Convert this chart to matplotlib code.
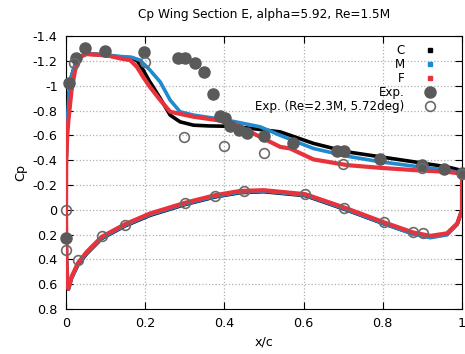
import numpy as np
import matplotlib
matplotlib.use('Agg')
import matplotlib.pyplot as plt
from matplotlib.lines import Line2D
from matplotlib.ticker import FuncFormatter, MultipleLocator

plt.rcParams['axes.unicode_minus'] = False
plt.rcParams['font.family'] = 'DejaVu Sans'

# CFD, upper surface (x/c, Cp)
xu_C = [0.004, 0.001, 0.0, 0.0005, 0.003, 0.008, 0.014, 0.023, 0.035, 0.05, 0.08, 0.11, 0.14, 0.165,
        0.18, 0.195, 0.21, 0.22, 0.238, 0.263, 0.288, 0.322, 0.36, 0.398, 0.457, 0.541, 0.625, 0.71,
        0.794, 0.878, 0.962, 0.996, 1.0]
cu_C = [0.62, 0.4, 0.0, -0.4, -0.7, -0.95, -1.08, -1.17, -1.23, -1.255, -1.25, -1.24, -1.23, -1.225,
        -1.2, -1.126, -1.04, -0.99, -0.898, -0.763, -0.709, -0.682, -0.676, -0.674, -0.66, -0.628, -0.535, -0.467,
        -0.427, -0.387, -0.346, -0.32, -0.30]
xu_M = [0.004, 0.001, 0.0, 0.0005, 0.003, 0.008, 0.014, 0.023, 0.035, 0.05, 0.08, 0.11, 0.14, 0.165,
        0.187, 0.212, 0.238, 0.263, 0.288, 0.322, 0.36, 0.406, 0.49, 0.541, 0.625, 0.71,
        0.794, 0.878, 0.962, 0.996, 1.0]
cu_M = [0.62, 0.4, 0.0, -0.4, -0.7, -0.95, -1.08, -1.17, -1.23, -1.26, -1.255, -1.245, -1.235, -1.23,
        -1.206, -1.126, -1.03, -0.884, -0.79, -0.763, -0.745, -0.723, -0.669, -0.60, -0.494, -0.432,
        -0.387, -0.352, -0.32, -0.297, -0.29]
xu_F = [0.004, 0.001, 0.0, 0.0005, 0.003, 0.006, 0.014, 0.023, 0.035, 0.052, 0.08, 0.11, 0.137, 0.162,
        0.179, 0.195, 0.212, 0.238, 0.263, 0.322, 0.381, 0.423, 0.49, 0.541, 0.566, 0.625, 0.71,
        0.794, 0.878, 0.962, 0.996, 1.0]
cu_F = [0.62, 0.4, 0.0, -0.4, -0.6, -0.72, -0.965, -1.126, -1.233, -1.255, -1.25, -1.24, -1.22, -1.206,
        -1.152, -1.07, -0.99, -0.884, -0.79, -0.75, -0.723, -0.696, -0.588, -0.507, -0.494, -0.406, -0.36,
        -0.338, -0.32, -0.306, -0.293, -0.29]

# CFD, lower surface (x/c, Cp)
xl = [0.004, 0.006, 0.014, 0.03, 0.052, 0.09, 0.149, 0.212, 0.30, 0.377, 0.44, 0.499, 0.604, 0.703,
      0.802, 0.877, 0.92, 0.962, 0.988, 1.0, 1.0]
cl_F = [0.62, 0.635, 0.54, 0.43, 0.34, 0.218, 0.116, 0.03, -0.056, -0.118, -0.152, -0.158, -0.126, -0.018,
        0.10, 0.183, 0.21, 0.19, 0.11, 0.003, -0.29]
cl_C = [0.62, 0.64, 0.55, 0.445, 0.355, 0.232, 0.13, 0.045, -0.042, -0.104, -0.138, -0.146, -0.114, -0.005,
        0.112, 0.194, 0.22, 0.198, 0.115, 0.003, -0.30]
cl_M = [0.62, 0.64, 0.55, 0.44, 0.35, 0.228, 0.126, 0.04, -0.046, -0.108, -0.142, -0.15, -0.118, -0.008,
        0.11, 0.196, 0.225, 0.202, 0.115, 0.003, -0.29]

# experiment, Re=1.5M
x_exp = [0.008, 0.025, 0.049, 0.099, 0.197, 0.282, 0.30, 0.326, 0.349, 0.37, 0.389, 0.402, 0.415,
         0.436, 0.458, 0.501, 0.572, 0.684, 0.701, 0.792, 0.90, 0.954, 1.0, 0.0]
cp_exp = [-1.023, -1.225, -1.306, -1.279, -1.268, -1.22, -1.225, -1.18, -1.107, -0.93, -0.755, -0.736, -0.674,
          -0.642, -0.615, -0.594, -0.54, -0.475, -0.475, -0.408, -0.36, -0.325, -0.293, 0.226]

# experiment, Re=2.3M, 5.72deg
x_exp2 = [0.019, 0.2, 0.297, 0.40, 0.50, 0.70, 0.90, 1.0,
          0.0, 0.0, 0.03, 0.09, 0.149, 0.30, 0.377, 0.45, 0.604, 0.703, 0.802, 0.877, 0.902]
cp_exp2 = [-1.18, -1.19, -0.588, -0.515, -0.46, -0.373, -0.333, -0.287,
           0.0, 0.326, 0.406, 0.213, 0.119, -0.056, -0.11, -0.152, -0.131, -0.018, 0.10, 0.183, 0.19]

c_blue = '#1f8ad0'
c_red = '#e8323c'
c_exp = '#5a5a5a'

fig = plt.figure(figsize=(4.65, 3.54), dpi=100)
ax = fig.add_axes([0.142, 0.127, 0.8515, 0.771])

ax.plot(xu_C, cu_C, color='black', lw=2.6, zorder=3)
ax.plot(xl, cl_C, color='black', lw=2.6, zorder=3)
ax.plot(xu_M, cu_M, color=c_blue, lw=2.6, zorder=4)
ax.plot(xl, cl_M, color=c_blue, lw=2.6, zorder=4)
ax.plot(xu_F, cu_F, color=c_red, lw=3.0, zorder=5)
ax.plot(xl, cl_F, color=c_red, lw=3.0, zorder=5)
ax.plot(x_exp, cp_exp, 'o', color=c_exp, ms=8, mec=c_exp, zorder=6, clip_on=False)
ax.plot(x_exp2, cp_exp2, 'o', mfc='none', mec='#6a6a6a', mew=1.2, ms=7, zorder=7, clip_on=False)

ax.set_xlim(0, 1)
ax.set_ylim(0.8, -1.4)
ax.xaxis.set_major_locator(MultipleLocator(0.2))
ax.yaxis.set_major_locator(MultipleLocator(0.2))
fmt = FuncFormatter(lambda v, p: '%g' % round(v, 2))
ax.xaxis.set_major_formatter(fmt)
ax.yaxis.set_major_formatter(fmt)
ax.tick_params(direction='in', top=True, right=True, length=5, labelsize=9.2, pad=6)
ax.grid(True, linestyle=':', color='#b0b0b0', lw=0.9)
ax.set_axisbelow(True)

ax.set_title('Cp Wing Section E, alpha=5.92, Re=1.5M', fontsize=8.7, pad=13)
ax.set_xlabel('x/c', fontsize=9.2)
ax.set_ylabel('Cp', fontsize=9.2)

handles = [
    Line2D([], [], ls='none', marker='s', ms=2.5, color='black'),
    Line2D([], [], ls='none', marker='s', ms=2.5, color=c_blue),
    Line2D([], [], ls='none', marker='s', ms=2.5, color=c_red),
    Line2D([], [], ls='none', marker='o', ms=8, color=c_exp),
    Line2D([], [], ls='none', marker='o', ms=7, mfc='none', mec='#6a6a6a', mew=1.2),
]
labels = ['C', 'M', 'F', 'Exp.', 'Exp. (Re=2.3M, 5.72deg)']
leg = ax.legend(handles, labels, loc='upper right', bbox_to_anchor=(0.958, 1.005), frameon=False,
                markerfirst=False, fontsize=8.6, handlelength=1.0, handletextpad=1.6,
                labelspacing=0.08, borderpad=0.3)
leg._legend_box.align = 'right'

fig.savefig('out.png', dpi=100)
